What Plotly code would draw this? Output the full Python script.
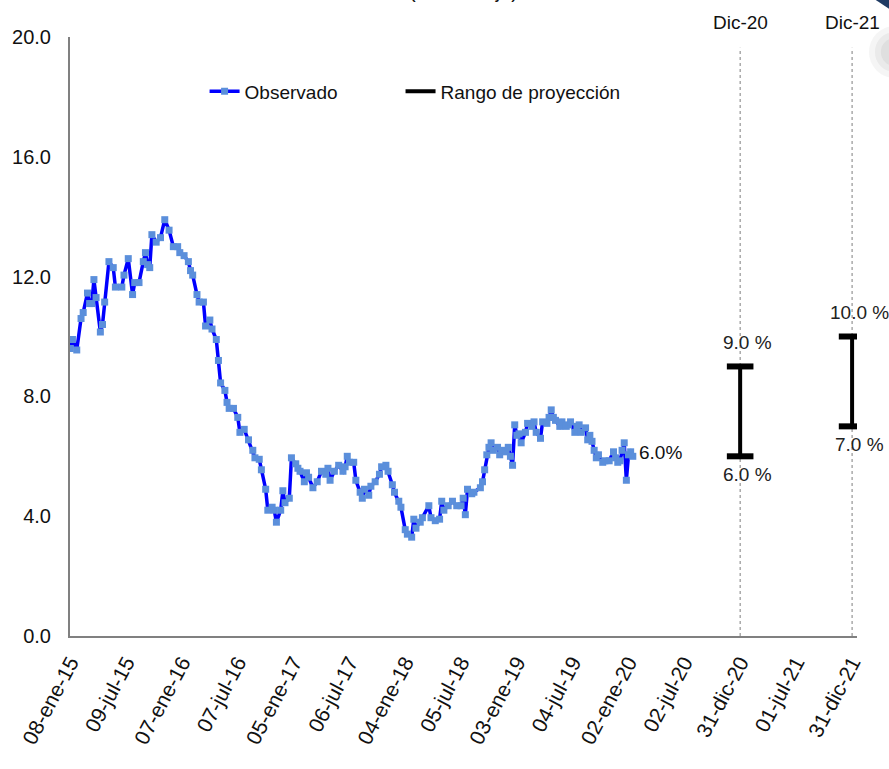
import numpy as np
import pandas as pd
import plotly.graph_objects as go

# Serie semanal observada (semanas contadas desde el jueves inicial)
inicio = "2015-01-08"
semana = [0, 1, 3, 5, 6, 8, 9, 10, 11, 12, 14, 15, 16, 18, 20, 21, 24, 25, 27, 29,
          30, 32, 34, 35, 36, 37, 38, 40, 42, 44, 46, 48, 50, 51, 53, 55, 56, 57, 59, 60,
          62, 63, 65, 66, 68, 69, 70, 72, 73, 74, 76, 78, 79, 81, 83, 85, 86, 88, 89, 91,
          92, 94, 95, 96, 98, 99, 100, 102, 103, 105, 106, 107, 109, 110, 111, 113, 115, 117, 119, 120,
          121, 123, 125, 127, 128, 129, 130, 132, 133, 135, 136, 137, 139, 140, 142, 144, 145, 147, 148, 150,
          151, 153, 154, 156, 157, 159, 160, 161, 163, 164, 167, 168, 170, 172, 173, 174, 176, 178, 180, 182,
          183, 184, 185, 187, 188, 191, 192, 193, 194, 195, 196, 197, 199, 200, 201, 203, 204, 205, 206, 207,
          208, 209, 210, 212, 213, 215, 216, 217, 219, 220, 222, 223, 224, 225, 226, 228, 229, 231, 232, 233,
          235, 236, 237, 238, 240, 241, 242, 243, 244, 245, 246, 248, 249, 251, 253, 254, 255, 256, 257, 258,
          259, 260, 261, 262]
observado = [9.6, 9.9, 9.55, 10.6, 10.8, 11.45, 11.1, 11.1, 11.9, 11.3, 10.15, 10.4, 11.15, 12.5, 12.3, 11.65, 11.65, 12.05, 12.6, 11.4,
             11.8, 11.8, 12.5, 12.8, 12.4, 12.3, 13.4, 13.15, 13.3, 13.9, 13.55, 13.0, 13.0, 12.8, 12.7, 12.5, 12.2, 12.05, 11.4, 11.15,
             11.15, 10.35, 10.55, 10.25, 9.9, 9.2, 8.45, 8.2, 7.8, 7.6, 7.6, 7.3, 6.8, 6.9, 6.55, 6.2, 5.95, 5.9, 5.55, 4.9,
             4.2, 4.3, 4.2, 3.8, 4.2, 4.85, 4.45, 4.6, 5.95, 5.75, 5.6, 5.5, 5.15, 5.45, 5.3, 4.95, 5.15, 5.5, 5.4, 5.6,
             5.2, 5.5, 5.7, 5.5, 5.65, 6.0, 5.8, 5.8, 5.2, 4.8, 4.6, 4.9, 4.7, 5.0, 5.15, 5.4, 5.65, 5.7, 5.5, 5.05,
             4.8, 4.5, 4.3, 3.55, 3.4, 3.3, 3.9, 3.6, 3.8, 3.95, 4.35, 3.95, 3.85, 3.9, 4.5, 4.2, 4.35, 4.5, 4.35, 4.35,
             4.6, 4.05, 4.9, 4.75, 4.8, 4.95, 5.15, 5.55, 6.05, 6.3, 6.45, 6.2, 6.3, 6.05, 6.2, 6.15, 6.3, 6.0, 5.7, 7.05,
             6.7, 6.75, 6.45, 6.8, 7.1, 7.0, 7.15, 6.8, 6.6, 7.15, 7.1, 7.3, 7.55, 7.3, 7.2, 7.0, 7.15, 7.0, 7.05, 7.15,
             6.8, 7.0, 7.05, 6.8, 6.95, 6.55, 6.7, 6.5, 6.2, 5.95, 6.05, 5.8, 5.85, 5.85, 6.15, 5.95, 5.8, 5.85, 6.2, 6.45,
             5.2, 6.05, 6.15, 6.0]

# Rangos de proyección
proy_fecha = ["2020-12-31", "2021-12-31"]
proy_min = [6.0, 7.0]
proy_max = [9.0, 10.0]
proy_rotulo = ["Dic-20", "Dic-21"]

# Ejes
tick_fechas = ["2015-01-08", "2015-07-09", "2016-01-07", "2016-07-07", "2017-01-05",
               "2017-07-06", "2018-01-04", "2018-07-05", "2019-01-03", "2019-07-04",
               "2020-01-02", "2020-07-02", "2020-12-31", "2021-07-01", "2021-12-31"]
tick_textos = ["08-ene-15", "09-jul-15", "07-ene-16", "07-jul-16", "05-ene-17",
               "06-jul-17", "04-ene-18", "05-jul-18", "03-ene-19", "04-jul-19",
               "02-ene-20", "02-jul-20", "31-dic-20", "01-jul-21", "31-dic-21"]
y_ticks = [0, 4, 8, 12, 16, 20]

FUENTE = "Liberation Sans Narrow, Arial Narrow, Liberation Sans, Arial, sans-serif"
TINTA = "#111111"

fechas = pd.to_datetime(inicio) + pd.to_timedelta(np.array(semana) * 7, unit="D")

fig = go.Figure()

fig.add_trace(go.Scatter(
    x=fechas, y=observado, mode="lines+markers", name="Observado", legend="legend",
    line=dict(color="#0000FF", width=3.5),
    marker=dict(symbol="square", size=7, color="#5B8FDB", line=dict(width=0)),
))

# Barras verticales del rango
rx, ry = [], []
for f, lo, hi in zip(proy_fecha, proy_min, proy_max):
    rx += [f, f, None]
    ry += [lo, hi, None]
fig.add_trace(go.Scatter(
    x=rx, y=ry, mode="lines", name="Rango de proyección", legend="legend2",
    line=dict(color="black", width=4),
))
# Topes horizontales del rango
fig.add_trace(go.Scatter(
    x=[f for f in proy_fecha for _ in range(2)],
    y=[v for lo, hi in zip(proy_min, proy_max) for v in (lo, hi)],
    mode="markers", showlegend=False, hoverinfo="skip",
    marker=dict(symbol="line-ew", size=19, color="black",
                line=dict(width=6, color="black")),
))

anot = []
for f, lo, hi, r in zip(proy_fecha, proy_min, proy_max, proy_rotulo):
    anot.append(dict(x=f, y=hi, text=f"{hi:.1f} %", showarrow=False, yshift=24, xshift=7,
                     font=dict(size=19, color="#222222", family=FUENTE)))
    anot.append(dict(x=f, y=lo, text=f"{lo:.1f} %", showarrow=False, yshift=-18, xshift=7,
                     font=dict(size=19, color="#222222", family=FUENTE)))
    anot.append(dict(x=f, y=1.025, yref="paper", text=r, showarrow=False,
                     xanchor="center", yanchor="middle",
                     font=dict(size=19, color=TINTA, family=FUENTE)))

anot.append(dict(x=fechas[-1], y=observado[-1], text=f"{observado[-1]:.1f}%", showarrow=False,
                 xanchor="left", yanchor="middle", xshift=4, yshift=4,
                 font=dict(size=19, color=TINTA, family=FUENTE)))
anot.append(dict(x=0.5, xref="paper", y=1.077, yref="paper", text="(Porcentaje)",
                 showarrow=False, xanchor="center", yanchor="middle",
                 font=dict(size=20, color=TINTA, family=FUENTE)))

shapes = []
for f in proy_fecha:
    shapes.append(dict(type="line", x0=f, x1=f, y0=0, y1=0.982, xref="x", yref="paper",
                       layer="below", line=dict(color="#7F7F7F", width=1, dash="dot")))
# Detalle decorativo de la esquina superior derecha
shapes.append(dict(type="path", xref="paper", yref="paper",
                   path="M 1.023 1.0625 L 1.042 1.0625 L 1.042 1.046 Z",
                   fillcolor="#1F3B63", line=dict(width=0), layer="above"))
for r, op in [(26, 0.10), (20, 0.12), (14, 0.14)]:
    shapes.append(dict(type="circle", xref="paper", yref="paper",
                       x0=(895 - r - 67) / 790, x1=(895 + r - 67) / 790,
                       y0=(636 - 52 - r) / 599, y1=(636 - 52 + r) / 599,
                       fillcolor="#9A9A9A", opacity=op, line=dict(width=0), layer="above"))

leyenda = dict(orientation="h", y=0.909, xanchor="left", yanchor="middle",
               bgcolor="rgba(0,0,0,0)", font=dict(size=19, family=FUENTE, color=TINTA),
               itemwidth=30)

fig.update_layout(
    width=889, height=769,
    margin=dict(l=67, r=32, t=37, b=133),
    paper_bgcolor="white", plot_bgcolor="white",
    font=dict(family=FUENTE, size=19, color=TINTA),
    showlegend=True,
    legend=dict(leyenda, x=0.171),
    legend2=dict(leyenda, x=0.420),
    annotations=anot,
    shapes=shapes,
)
fig.update_xaxes(
    type="date", range=["2015-01-07", "2022-01-16"],
    tickmode="array", tickvals=tick_fechas, ticktext=tick_textos, tickangle=-62,
    showline=True, linecolor="#808080", linewidth=2, ticks="",
    showgrid=False, zeroline=False, ticklabelstandoff=4,
    tickfont=dict(size=21, family=FUENTE, color=TINTA),
)
fig.update_yaxes(
    range=[0, 20], tickmode="array", tickvals=y_ticks, tickformat=".1f",
    showline=True, linecolor="#808080", linewidth=2, ticks="",
    showgrid=False, zeroline=False, ticklabelstandoff=13,
    tickfont=dict(size=20, family=FUENTE, color=TINTA),
)

fig.write_html("out.html")
